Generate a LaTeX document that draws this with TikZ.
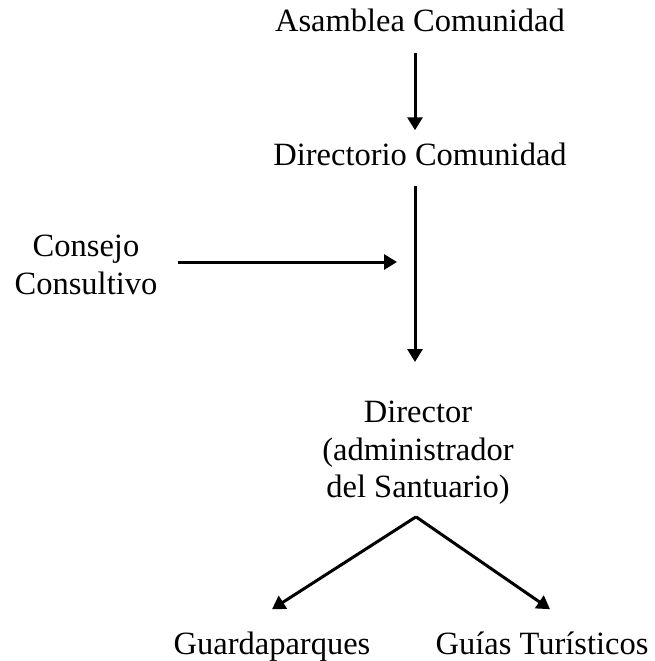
\documentclass[tikz,border=0pt]{standalone}
\usepackage{fontspec}
\setmainfont{Liberation Serif}
\usetikzlibrary{arrows.meta}
\tikzset{
  >={Triangle[length=13pt,width=15pt]},
  x=1pt, y=-1pt,
}
\tikzstyle{link}=[line width=3pt,->]
\tikzstyle{every node}=[font=\fontsize{32.5}{37.5}\selectfont, inner sep=2pt]

\begin{document}
\begin{tikzpicture}
    \useasboundingbox (0,0) rectangle (654,661);
    \coordinate (spine) at (415,0);
    \coordinate (junction) at (415,262);

    \node[anchor=base] (asamblea) at (420,32) {Asamblea Comunidad};
    \node[anchor=base] (directorio) at (420,165) {Directorio Comunidad};
    \node[align=center] (consejo) at (86,265) {Consejo\\Consultivo};
    \node[align=center,anchor=north] (director) at (418,399) {Director\\(administrador\\del Santuario)};
    \node[anchor=base] (guarda) at (272,654) {Guardaparques};
    \node[anchor=base] (guias) at (542,654) {Guías Turísticos};
    \coordinate (apex) at ([xshift=-2pt,yshift=-10pt]director.south);

    \draw[link,shorten <=18pt,shorten >=10pt] (asamblea.south -| spine) -- (directorio.north -| spine);
    \draw[link,shorten <=18pt,shorten >=37pt] (directorio.south -| spine) -- (director.north -| spine);
    \draw[link,shorten <=18pt,shorten >=18pt] (consejo.east |- junction) -- (junction);
    \draw[link] (apex) -- ([yshift=20pt]guarda.north);
    \draw[link] (apex) -- ([xshift=8pt,yshift=20pt]guias.north);
\end{tikzpicture}
\end{document}
